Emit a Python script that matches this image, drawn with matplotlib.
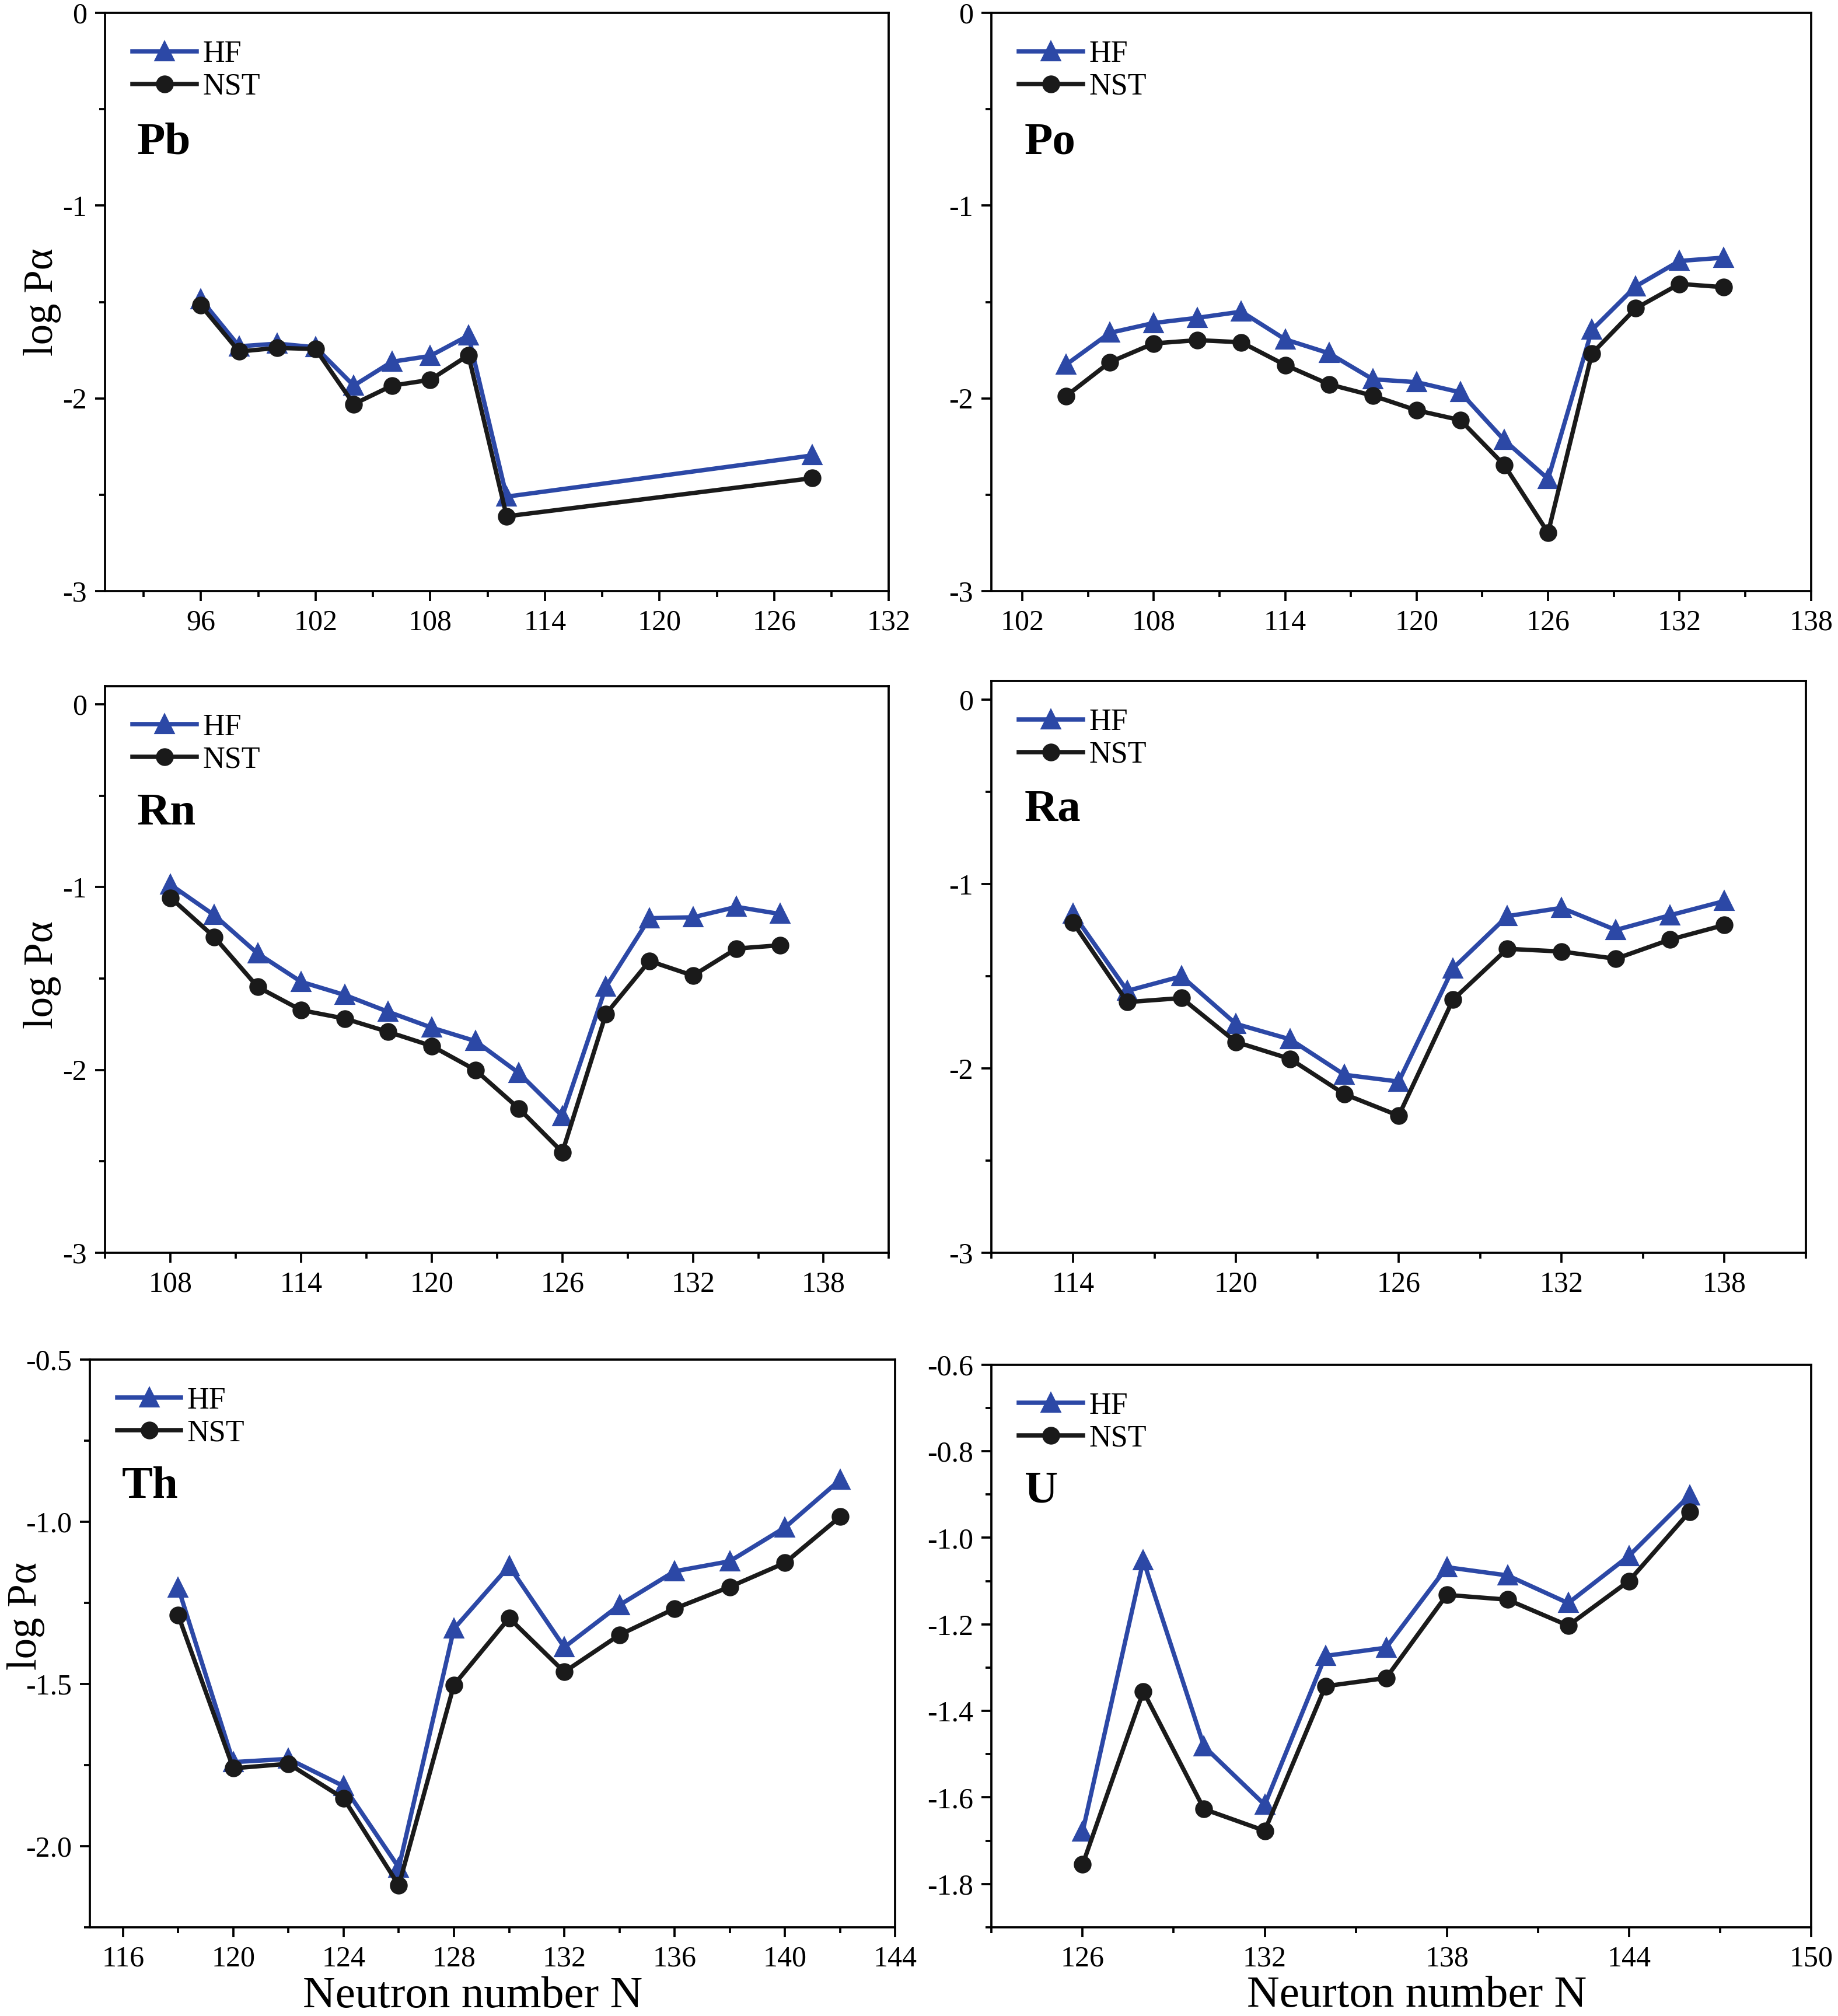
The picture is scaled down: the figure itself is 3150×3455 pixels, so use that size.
import matplotlib
matplotlib.use("Agg")
import matplotlib.pyplot as plt
from matplotlib.ticker import MultipleLocator, AutoMinorLocator

plt.rcParams.update({"font.family": "Liberation Serif", "axes.unicode_minus": False})

HF_COL = "#2c48a6"; NST_COL = "#1a1a1a"

# --- data: neutron number N vs log P_alpha ---
pb_n = [96, 98, 100, 102, 104, 106, 108, 110, 112, 128]
pb_hf = [-1.486, -1.73, -1.716, -1.735, -1.934, -1.81, -1.78, -1.674, -2.51, -2.296]
pb_nst = [-1.518, -1.757, -1.738, -1.744, -2.03, -1.934, -1.904, -1.776, -2.612, -2.414]

po_n = [104, 106, 108, 110, 112, 114, 116, 118, 120, 122, 124, 126, 128, 130, 132, 134]
po_hf = [-1.825, -1.66, -1.609, -1.582, -1.55, -1.694, -1.766, -1.901, -1.916, -1.969,
         -2.217, -2.418, -1.645, -1.419, -1.287, -1.27]
po_nst = [-1.988, -1.812, -1.715, -1.698, -1.709, -1.827, -1.927, -1.986, -2.062, -2.113,
          -2.346, -2.697, -1.768, -1.533, -1.406, -1.423]

rn_n = [108, 110, 112, 114, 116, 118, 120, 122, 124, 126, 128, 130, 132, 134, 136]
rn_hf = [-0.987, -1.153, -1.363, -1.518, -1.59, -1.682, -1.769, -1.842, -2.017, -2.252,
         -1.546, -1.17, -1.165, -1.108, -1.147]
rn_nst = [-1.058, -1.272, -1.546, -1.673, -1.719, -1.792, -1.869, -2.0, -2.211, -2.45,
          -1.694, -1.404, -1.484, -1.336, -1.318]

ra_n = [114, 116, 118, 120, 122, 124, 126, 128, 130, 132, 134, 136, 138]
ra_hf = [-1.161, -1.58, -1.501, -1.759, -1.843, -2.035, -2.072, -1.458, -1.175, -1.13,
         -1.25, -1.17, -1.093]
ra_nst = [-1.211, -1.641, -1.619, -1.857, -1.949, -2.14, -2.257, -1.628, -1.352, -1.367,
          -1.406, -1.302, -1.223]

th_n = [118, 120, 122, 124, 126, 128, 130, 132, 134, 136, 138, 140, 142]
th_hf = [-1.203, -1.741, -1.731, -1.815, -2.066, -1.33, -1.137, -1.387, -1.257, -1.153,
         -1.122, -1.018, -0.871]
th_nst = [-1.288, -1.76, -1.746, -1.853, -2.121, -1.503, -1.297, -1.463, -1.349, -1.268,
          -1.201, -1.127, -0.985]

u_n = [126, 128, 130, 132, 134, 136, 138, 140, 142, 144, 146]
u_hf = [-1.679, -1.052, -1.482, -1.617, -1.273, -1.254, -1.068, -1.087, -1.151, -1.042, -0.902]
u_nst = [-1.755, -1.355, -1.627, -1.677, -1.343, -1.324, -1.132, -1.143, -1.203, -1.1, -0.94]

# panel: (name, N, HF, NST, axes rect, xlim, ylim, xstep, ystep, ylabel y-pos, xlabel, xlabel x-pos)
panels = [
    ("Pb", pb_n, pb_hf, pb_nst, [0.0573, 0.7068, 0.4263, 0.2868], (91, 132), (-3, 0), 6, 1.0, 0.5, None, 0),
    ("Po", po_n, po_hf, po_nst, [0.5395, 0.7068, 0.4458, 0.2868], (100.6, 138), (-3, 0), 6, 1.0, None, None, 0),
    ("Rn", rn_n, rn_hf, rn_nst, [0.0573, 0.3786, 0.4263, 0.2811], (105, 141), (-3, 0.1), 6, 1.0, 0.49, None, 0),
    ("Ra", ra_n, ra_hf, ra_nst, [0.5395, 0.3786, 0.4430, 0.2836], (111, 141), (-3, 0.1), 6, 1.0, None, None, 0),
    ("Th", th_n, th_hf, th_nst, [0.0489, 0.0440, 0.4382, 0.2817], (114.8, 144), (-2.25, -0.5), 4, 0.5, 0.548,
     "Neutron number N", 0.475),
    ("U", u_n, u_hf, u_nst, [0.5395, 0.0440, 0.4458, 0.2791], (123, 150), (-1.9, -0.6), 6, 0.2, None,
     "Neurton number N", 0.519),
]

fig = plt.figure(figsize=(10.5, 11.5167), dpi=300)
for name, n, hf, nst, rect, xl, yl, xs, ys, ylab_y, xlab, xlab_x in panels:
    ax = fig.add_axes(rect)
    ax.plot(n, hf, color=HF_COL, lw=1.8, marker="^", ms=7, label="HF")
    ax.plot(n, nst, color=NST_COL, lw=1.8, marker="o", ms=6.3, label="NST")
    ax.set_xlim(*xl); ax.set_ylim(*yl)
    ax.xaxis.set_major_locator(MultipleLocator(xs)); ax.xaxis.set_minor_locator(AutoMinorLocator(2))
    ax.yaxis.set_major_locator(MultipleLocator(ys)); ax.yaxis.set_minor_locator(AutoMinorLocator(2))
    ax.yaxis.set_major_formatter(plt.FormatStrFormatter("%.1f" if ys < 1 else "%d"))
    ax.tick_params(which="both", direction="out", top=False, right=False, labelsize=12, width=0.9)
    ax.tick_params(which="major", length=4); ax.tick_params(which="minor", length=2.5)
    for s in ax.spines.values(): s.set_linewidth(0.9)
    ax.legend(loc="upper left", frameon=False, fontsize=12.5, handlelength=2.1, handletextpad=0.2,
              labelspacing=0.15, borderaxespad=0.5)
    ax.text(0.04, 0.775, name, transform=ax.transAxes, ha="left", va="center", fontsize=19, fontweight="bold")
    if ylab_y is not None:
        ax.set_ylabel("log Pα", fontsize=17)
        ax.yaxis.set_label_coords(-0.056, ylab_y)
    if xlab:
        ax.set_xlabel(xlab, fontsize=18.5)
        ax.xaxis.set_label_coords(xlab_x, -0.086)

fig.savefig("out.png", dpi=300)
